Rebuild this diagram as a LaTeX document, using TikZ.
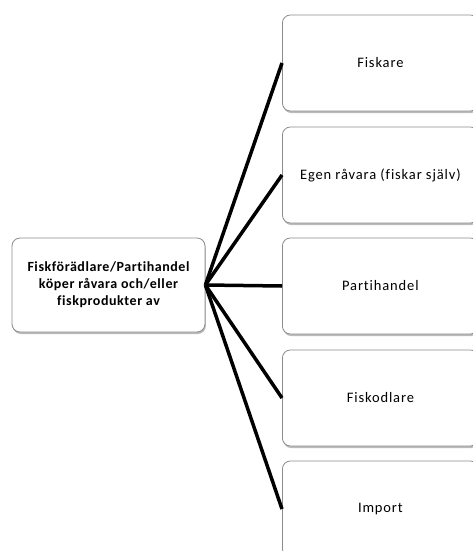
\documentclass[tikz,border=0pt]{standalone}
\usepackage{fontspec}
\setmainfont{Carlito}
\newfontfamily\lfont[LetterSpace=4,Ligatures=NoCommon]{Carlito}
\newfontfamily\rfont[LetterSpace=6,Ligatures=NoCommon]{Carlito}
\usetikzlibrary{shadows}
\begin{document}
\begin{tikzpicture}[x=1pt,y=-1pt,
  box/.style={draw=black!45, line width=0.8pt, fill=white, rounded corners=8pt,
    drop shadow={shadow xshift=0.8pt, shadow yshift=-2pt, fill=black!45, opacity=0.6},
    align=center, inner sep=0pt},
  rbox/.style={box, minimum width=196pt, minimum height=96pt, anchor=west, font=\rfont\fontsize{14.5}{16}\selectfont},
  conn/.style={line width=3.5pt}]
\useasboundingbox (0,0) rectangle (472,551);
\node[box, minimum width=193pt, minimum height=94pt, font=\lfont\bfseries\fontsize{14}{17}\selectfont] (src) at (108.5,285)
  {Fiskförädlare/Partihandel\\köper råvara och/eller\\fiskprodukter av};
\node[rbox] (b1) at (282,63) {Fiskare};
\node[rbox] (b2) at (282,175) {Egen råvara (fiskar själv)};
\node[rbox] (b3) at (282,286) {Partihandel};
\node[rbox] (b4) at (282,398) {Fiskodlare};
\node[rbox] (b5) at (282,509) {Import};
\foreach \b in {b1,b2,b3,b4,b5}
  \draw[conn] (src.east) -- (\b.west);
\end{tikzpicture}
\end{document}
